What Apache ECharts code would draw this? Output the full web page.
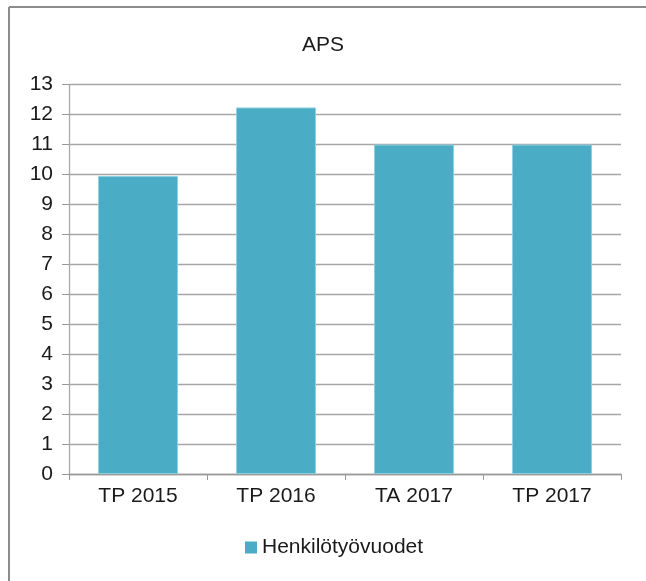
<!DOCTYPE html>
<html>
<head>
<meta charset="utf-8">
<script src="https://cdn.jsdelivr.net/npm/echarts@6/dist/echarts.min.js"></script>
<style>
html,body{margin:0;padding:0;background:#fff;}
#c{width:646px;height:581px;}
</style>
</head>
<body>
<div id="c"></div>
<script>
const categories = ['TP 2015', 'TP 2016', 'TA 2017', 'TP 2017'];
const henkilotyovuodet = [9.95, 12.24, 11, 11];
const seriesName = 'Henkilötyövuodet';
const chartTitle = 'APS';

const font = "'Liberation Sans', Arial, sans-serif";
const chart = echarts.init(document.getElementById('c'), null, {renderer: 'canvas'});
chart.setOption({
  animation: false,
  backgroundColor: '#fff',
  title: {
    text: chartTitle,
    left: 'center',
    top: 30,
    textStyle: {fontFamily: font, fontSize: 21, fontWeight: 'normal', color: '#1a1a1a'}
  },
  legend: {
    data: [seriesName],
    left: 245,
    top: 537,
    padding: 0,
    icon: 'rect',
    itemWidth: 12,
    itemHeight: 12,
    itemStyle: {borderWidth: 0},
    textStyle: {fontFamily: font, fontSize: 21, color: '#1a1a1a'}
  },
  grid: {left: 69, right: 25, top: 84.7, bottom: 107, containLabel: false},
  xAxis: {
    type: 'category',
    data: categories,
    axisLine: {show: true, lineStyle: {color: '#999', width: 1.3}},
    axisTick: {show: true, length: 6, alignWithLabel: false, lineStyle: {color: '#999'}},
    axisLabel: {fontFamily: font, fontSize: 21, color: '#1a1a1a', margin: 12}
  },
  yAxis: {
    type: 'value',
    min: 0, max: 13, interval: 1,
    axisLine: {show: true, lineStyle: {color: '#aaa', width: 1.3}},
    axisTick: {show: true, length: 7, lineStyle: {color: '#999'}},
    splitLine: {show: true, lineStyle: {color: '#a6a6a6', width: 1.3}},
    axisLabel: {fontFamily: font, fontSize: 21, color: '#1a1a1a', margin: 16}
  },
  series: [{
    name: seriesName,
    type: 'bar',
    data: henkilotyovuodet,
    barCategoryGap: '42%',
    itemStyle: {color: '#4bacc6', borderColor: '#8fd0e0', borderWidth: 1}
  }],
  graphic: [
    {type: 'line', shape: {x1: 9, y1: 7, x2: 646, y2: 7}, style: {stroke: '#8c8c8c', lineWidth: 2}},
    {type: 'line', shape: {x1: 9, y1: 7, x2: 9, y2: 581}, style: {stroke: '#8c8c8c', lineWidth: 2}}
  ]
});
</script>
</body>
</html>
